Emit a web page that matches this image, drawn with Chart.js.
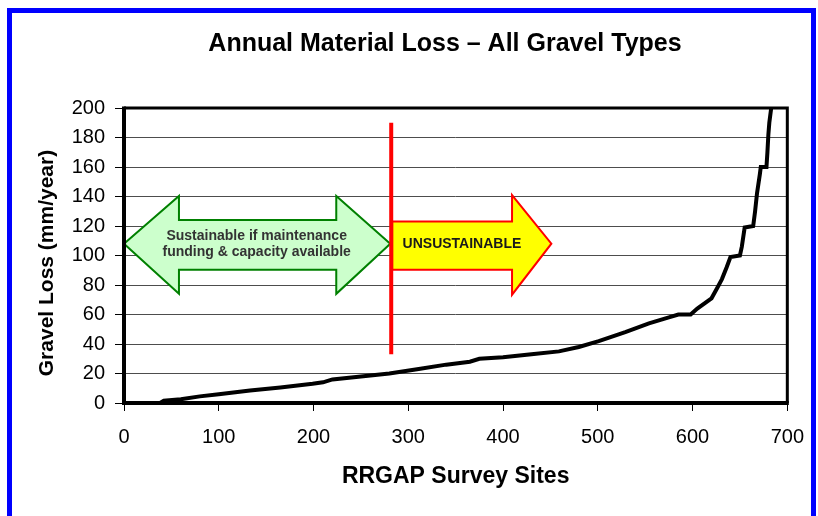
<!DOCTYPE html>
<html>
<head>
<meta charset="utf-8">
<title>Annual Material Loss – All Gravel Types</title>
<script src="https://cdn.jsdelivr.net/npm/chart.js@4.4.1/dist/chart.umd.min.js"></script>
<style>
  html, body { margin: 0; padding: 0; background: #fff; }
  #wrap { position: relative; width: 818px; height: 516px; overflow: hidden; }
  #lossChart { position: absolute; left: 0; top: 0; }
  #frame {
    position: absolute; left: 7px; top: 8px; width: 809px; height: 600px;
    border: 5px solid #0000ff; box-sizing: border-box; pointer-events: none;
  }
</style>
</head>
<body>
<div id="wrap">
  <canvas id="lossChart" width="818" height="516"></canvas>
  <div id="frame"></div>
</div>
<script>
// Sites ranked by gravel loss (x) and loss in mm/year (y)
const siteRank = [0, 38, 42, 60, 80, 100, 133, 165, 199, 210, 220, 250, 280, 311, 340, 365, 375, 400, 430, 459,
  480, 501, 529, 554, 575, 585, 598, 605, 620, 626, 631, 636, 640, 650, 652, 655, 664, 666, 668, 671, 672, 678,
  679, 680, 681, 683];
const gravelLoss = [0, 0, 1.5, 2.5, 4.5, 6, 8.5, 10.5, 13, 14, 16, 18, 20, 23, 26, 28, 30, 31, 33, 35,
  38, 42, 48, 54, 58, 60, 60, 64, 71, 78, 84, 92, 99, 100, 106, 119, 120, 130, 142, 155, 160, 160,
  170, 182, 190, 200];

const xTickValues = [0, 100, 200, 300, 400, 500, 600, 700];
const yTickValues = [0, 20, 40, 60, 80, 100, 120, 140, 160, 180, 200];

const CHART_TITLE = 'Annual Material Loss – All Gravel Types';
const Y_TITLE = 'Gravel Loss (mm/year)';

// Annotation shapes, in data units (site rank, mm/year)
const SUSTAINABLE_ARROW = [[0, 108], [58, 140.4], [58, 124], [224, 124], [224, 140.4], [281, 108],
  [224, 74], [224, 90.3], [58, 90.3], [58, 74]];
const UNSUSTAINABLE_ARROW = [[283, 123], [409.5, 123], [409.5, 141], [451, 108], [409.5, 73.4],
  [409.5, 90.3], [283, 90.3]];
const LIMIT_LINE = [[282, 190], [282, 33]];

const FONT = "'Liberation Sans', Arial, Helvetica, sans-serif";

function fillShape(ctx, pts, fill, stroke) {
  ctx.beginPath();
  pts.forEach((p, i) => (i ? ctx.lineTo(p[0], p[1]) : ctx.moveTo(p[0], p[1])));
  ctx.closePath();
  ctx.fillStyle = fill;
  ctx.fill();
  ctx.lineWidth = 2;
  ctx.lineJoin = 'miter';
  ctx.strokeStyle = stroke;
  ctx.stroke();
}

const overlayPlugin = {
  id: 'overlay',
  afterDatasetsDraw(chart) {
    const { ctx, scales: { x, y } } = chart;
    const px = p => [x.getPixelForValue(p[0]), y.getPixelForValue(p[1])];
    ctx.save();

    fillShape(ctx, SUSTAINABLE_ARROW.map(px), '#ccffcc', '#008000');
    fillShape(ctx, UNSUSTAINABLE_ARROW.map(px), '#ffff00', '#ff0000');

    ctx.fillStyle = '#333333';
    ctx.font = 'bold 14px ' + FONT;
    ctx.textAlign = 'center';
    ctx.textBaseline = 'middle';
    const cx = x.getPixelForValue(140), cy = y.getPixelForValue(108);
    ctx.fillText('Sustainable if maintenance', cx, cy - 8);
    ctx.fillText('funding & capacity available', cx, cy + 8);

    ctx.fillStyle = '#1a1a1a';
    ctx.font = 'bold 14px ' + FONT;
    ctx.textAlign = 'left';
    ctx.fillText('UNSUSTAINABLE', x.getPixelForValue(294), cy);

    const [a, b] = LIMIT_LINE.map(px);
    ctx.beginPath();
    ctx.moveTo(a[0], a[1]);
    ctx.lineTo(b[0], b[1]);
    ctx.lineWidth = 4;
    ctx.strokeStyle = '#ff0000';
    ctx.stroke();
    ctx.restore();
  },
  afterDraw(chart) {
    const { ctx, chartArea: c } = chart;
    ctx.save();
    // plot frame: heavier on the axis sides
    ctx.strokeStyle = '#000';
    ctx.lineWidth = 3;
    ctx.beginPath();
    ctx.moveTo(c.left, c.top);
    ctx.lineTo(c.right, c.top);
    ctx.lineTo(c.right, c.bottom);
    ctx.stroke();
    ctx.lineWidth = 4;
    ctx.beginPath();
    ctx.moveTo(c.left, c.top - 1.5);
    ctx.lineTo(c.left, c.bottom);
    ctx.lineTo(c.right + 1.5, c.bottom);
    ctx.stroke();

    // chart title and y-axis title sit a little off the plot centre in the original
    ctx.fillStyle = '#000';
    ctx.textAlign = 'center';
    ctx.textBaseline = 'middle';
    ctx.font = 'bold 25px ' + FONT;
    ctx.fillText(CHART_TITLE, 445, 44);
    ctx.translate(47, 263);
    ctx.rotate(-Math.PI / 2);
    ctx.font = 'bold 21px ' + FONT;
    ctx.fillText(Y_TITLE, 0, 0);
    ctx.restore();
  }
};

const chart = new Chart(document.getElementById('lossChart').getContext('2d'), {
  type: 'line',
  data: {
    datasets: [{
      data: siteRank.map((r, i) => ({ x: r, y: gravelLoss[i] })),
      borderColor: '#000',
      borderWidth: 4,
      pointRadius: 0,
      tension: 0,
      fill: false
    }]
  },
  options: {
    responsive: false,
    animation: false,
    devicePixelRatio: 1,
    layout: { padding: { left: 0, right: 29, top: 108, bottom: 0 } },
    plugins: {
      legend: { display: false },
      tooltip: { enabled: false },
      title: { display: false }
    },
    scales: {
      x: {
        type: 'linear',
        min: 0,
        max: 700,
        afterBuildTicks: s => { s.ticks = xTickValues.map(v => ({ value: v })); },
        afterFit: s => { s.height = 113; },
        border: { display: false },
        grid: { drawOnChartArea: false, drawTicks: true, tickLength: 8, tickColor: '#000', lineWidth: 1 },
        ticks: { color: '#000', padding: 14, maxRotation: 0, font: { family: FONT, size: 20 } },
        title: {
          display: true,
          text: 'RRGAP Survey Sites',
          color: '#000',
          font: { family: FONT, size: 23, weight: 'bold' },
          padding: { top: 0, bottom: 26 }
        }
      },
      y: {
        min: 0,
        max: 200,
        afterBuildTicks: s => { s.ticks = yTickValues.map(v => ({ value: v })); },
        afterFit: s => { s.width = 124; },
        border: { display: false },
        grid: { color: '#4d4d4d', lineWidth: 1, drawTicks: true, tickLength: 9, tickColor: '#000' },
        ticks: { color: '#000', padding: 10, font: { family: FONT, size: 20 } }
      }
    }
  },
  plugins: [overlayPlugin]
});
</script>
</body>
</html>
